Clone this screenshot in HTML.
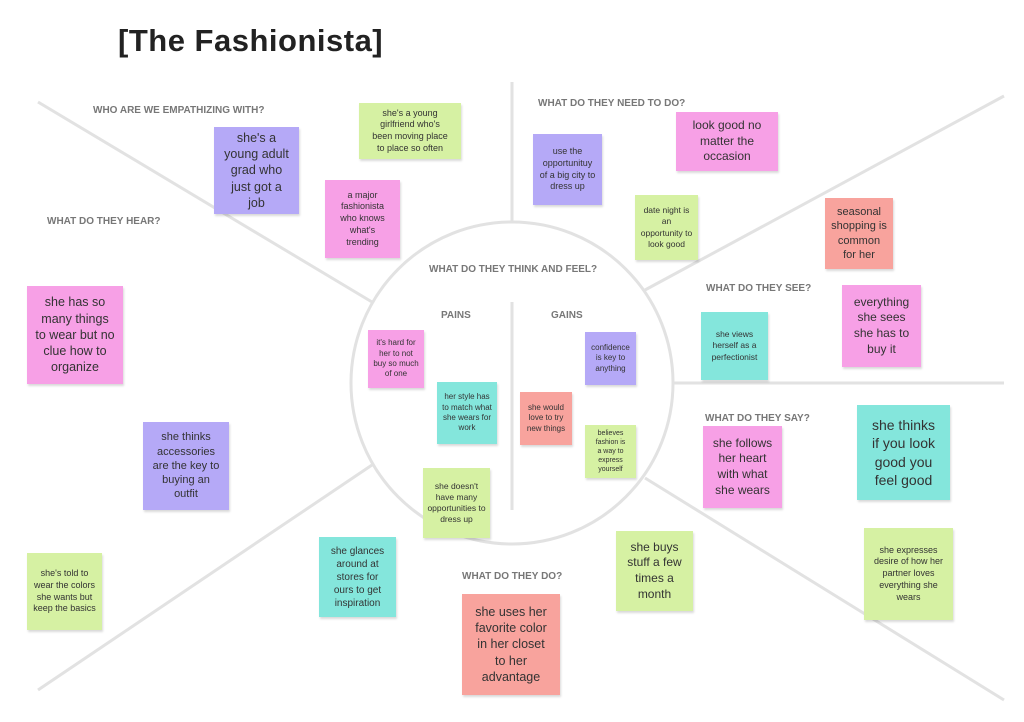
<!DOCTYPE html>
<html><head><meta charset="utf-8"><style>
body{margin:0;width:1024px;height:722px;background:#fff;position:relative;overflow:hidden;font-family:"Liberation Sans",sans-serif}
.t{position:absolute;font-weight:bold;color:#777;font-size:10px;white-space:nowrap}
.n{position:absolute;display:flex;align-items:center;justify-content:center;text-align:center;color:#333;box-shadow:1px 2px 2px rgba(0,0,0,.15);line-height:1.3;box-sizing:border-box;padding:3px 7px}
.p{background:#b5a9f7}.g{background:#d6f1a3}.k{background:#f7a0e6}.c{background:#84e6dc}.s{background:#f8a39d}
</style></head><body>
<svg width="1024" height="722" style="position:absolute;left:0;top:0">
<g stroke="#e2e2e2" stroke-width="3" fill="none">
<circle cx="512" cy="383" r="161"/>
<line x1="38" y1="102" x2="372" y2="302"/>
<line x1="512" y1="82" x2="512" y2="222"/>
<line x1="1004" y1="96" x2="645" y2="290"/>
<line x1="673" y1="383" x2="1004" y2="383"/>
<line x1="645" y1="478" x2="1004" y2="700"/>
<line x1="372" y1="465" x2="38" y2="690"/>
<line x1="512" y1="302" x2="512" y2="510"/>
</g></svg>
<div style="position:absolute;left:118px;top:23px;font-size:31px;font-weight:bold;color:#222;letter-spacing:.5px">[The Fashionista]</div>
<div class="t" style="left:93px;top:105px">WHO ARE WE EMPATHIZING WITH?</div>
<div class="t" style="left:47px;top:216px">WHAT DO THEY HEAR?</div>
<div class="t" style="left:538px;top:98px">WHAT DO THEY NEED TO DO?</div>
<div class="t" style="left:429px;top:264px">WHAT DO THEY THINK AND FEEL?</div>
<div class="t" style="left:441px;top:310px">PAINS</div>
<div class="t" style="left:551px;top:310px">GAINS</div>
<div class="t" style="left:706px;top:283px">WHAT DO THEY SEE?</div>
<div class="t" style="left:705px;top:413px">WHAT DO THEY SAY?</div>
<div class="t" style="left:462px;top:571px">WHAT DO THEY DO?</div>

<div class="n p" style="left:214px;top:127px;width:85px;height:87px;font-size:12.5px;padding:3px 8px">she's a young adult grad who just got a job</div>
<div class="n g" style="left:359px;top:103px;width:102px;height:56px;font-size:9px;padding:3px 10px">she's a young girlfriend who's been moving place to place so often</div>
<div class="n k" style="left:325px;top:180px;width:75px;height:78px;font-size:9px;padding:3px 9px">a major fashionista who knows what's trending</div>
<div class="n k" style="left:27px;top:286px;width:96px;height:98px;font-size:12.5px;padding:3px 8px">she has so many things to wear but no clue how to organize</div>
<div class="n p" style="left:143px;top:422px;width:86px;height:88px;font-size:11px;padding:3px 8px">she thinks accessories are the key to buying an outfit</div>
<div class="n g" style="left:27px;top:553px;width:75px;height:77px;font-size:9px;padding:3px 6px">she's told to wear the colors she wants but keep the basics</div>
<div class="n k" style="left:368px;top:330px;width:56px;height:58px;font-size:8px;padding:3px 5px">it's hard for her to not buy so much of one</div>
<div class="n c" style="left:437px;top:382px;width:60px;height:62px;font-size:8px;padding:3px 4px">her style has to match what she wears for work</div>
<div class="n g" style="left:423px;top:468px;width:67px;height:70px;font-size:8.5px;padding:3px 4px">she doesn't have many opportunities to dress up</div>
<div class="n p" style="left:585px;top:332px;width:51px;height:53px;font-size:8px;padding:3px 4px">confidence is key to anything</div>
<div class="n s" style="left:520px;top:392px;width:52px;height:53px;font-size:8px;padding:3px 4px">she would love to try new things</div>
<div class="n g" style="left:585px;top:425px;width:51px;height:53px;font-size:7px;padding:3px 8px">believes fashion is a way to express yourself</div>
<div class="n p" style="left:533px;top:134px;width:69px;height:71px;font-size:9px;padding:3px 6px">use the opportunituy of a big city to dress up</div>
<div class="n k" style="left:676px;top:112px;width:102px;height:59px;font-size:12px;padding:3px 12px">look good no matter the occasion</div>
<div class="n g" style="left:635px;top:195px;width:63px;height:65px;font-size:8.5px;padding:3px 5px">date night is an opportunity to look good</div>
<div class="n s" style="left:825px;top:198px;width:68px;height:71px;font-size:11px;padding:3px 6px">seasonal shopping is common for her</div>
<div class="n c" style="left:701px;top:312px;width:67px;height:68px;font-size:8.5px;padding:3px 10px">she views herself as a perfectionist</div>
<div class="n k" style="left:842px;top:285px;width:79px;height:82px;font-size:12px;padding:3px 9px">everything she sees she has to buy it</div>
<div class="n k" style="left:703px;top:426px;width:79px;height:82px;font-size:12px;padding:3px 7px">she follows her heart with what she wears</div>
<div class="n c" style="left:857px;top:405px;width:93px;height:95px;font-size:14px;padding:3px 10px">she thinks if you look good you feel good</div>
<div class="n g" style="left:864px;top:528px;width:89px;height:92px;font-size:9px;padding:3px 8px">she expresses desire of how her partner loves everything she wears</div>
<div class="n c" style="left:319px;top:537px;width:77px;height:80px;font-size:10px;padding:3px 7px">she glances around at stores for ours to get inspiration</div>
<div class="n g" style="left:616px;top:531px;width:77px;height:80px;font-size:12px;padding:3px 9px">she buys stuff a few times a month</div>
<div class="n s" style="left:462px;top:594px;width:98px;height:101px;font-size:12.5px;padding:3px 10px">she uses her favorite color in her closet to her advantage</div>
</body></html>
